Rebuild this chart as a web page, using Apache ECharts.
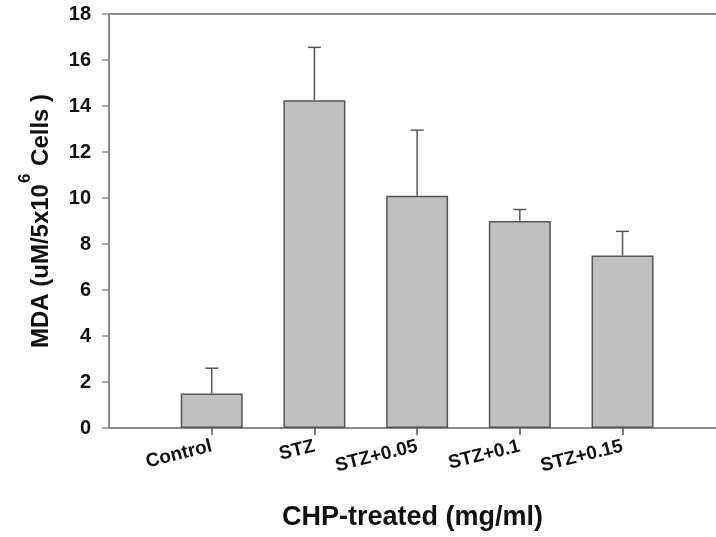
<!DOCTYPE html>
<html>
<head>
<meta charset="utf-8">
<script src="https://cdn.jsdelivr.net/npm/echarts@6/dist/echarts.min.js"></script>
<style>html,body{margin:0;padding:0;background:#fff}#c{width:716px;height:537px}</style>
</head>
<body>
<div id="c"></div>
<script>
const categories = ['Control', 'STZ', 'STZ+0.05', 'STZ+0.1', 'STZ+0.15'];
const meanValues = [1.5, 14.25, 10.1, 9.0, 7.5];
const errorTops = [2.6, 16.55, 12.95, 9.5, 8.55];
const yTicks = [0, 2, 4, 6, 8, 10, 12, 14, 16, 18];

const positions = categories.map((c, i) => i + 1);
const barData = meanValues.map((v, i) => [positions[i], v]);
const errData = meanValues.map((v, i) => [positions[i], v, errorTops[i]]);

const chart = echarts.init(document.getElementById('c'), null, {renderer: 'canvas'});
const font = '"Liberation Sans", Arial, sans-serif';
const axisGray = '#8a8a8a';
const xMax = 5.91;

chart.setOption({
  animation: false,
  backgroundColor: '#fff',
  grid: {left: 109, right: 0, top: 14, bottom: 109},
  xAxis: [{
    type: 'value', min: 0, max: xMax,
    splitLine: {show: false},
    axisLine: {show: true, lineStyle: {color: axisGray, width: 2}},
    axisTick: {show: true, customValues: positions, length: 7, lineStyle: {color: '#555', width: 1.5}},
    axisLabel: {
      customValues: positions, rotate: 14, margin: 18,
      formatter: v => categories[Math.round(v) - 1] || '',
      fontFamily: font, fontWeight: 'bold', fontSize: 19, color: '#111'
    },
    name: 'CHP-treated (mg/ml)', nameLocation: 'middle', nameGap: 76,
    nameTextStyle: {fontFamily: font, fontWeight: 'bold', fontSize: 27, color: '#111'}
  }, {
    type: 'value', position: 'top', min: 0, max: xMax,
    splitLine: {show: false},
    axisLine: {show: true, onZero: false, lineStyle: {color: axisGray, width: 2}},
    axisTick: {show: false}, axisLabel: {show: false}
  }],
  yAxis: {
    type: 'value', min: 0, max: 18, interval: 2,
    splitLine: {show: false},
    axisLine: {show: true, lineStyle: {color: axisGray, width: 2}},
    axisTick: {show: true, inside: false, length: 7, lineStyle: {color: axisGray, width: 1.5}},
    axisLabel: {
      margin: 18, fontFamily: font, fontWeight: 'bold', fontSize: 20, color: '#111',
      formatter: v => yTicks.includes(v) ? String(v) : ''
    },
    name: '{a|MDA (uM/5x10}{s|6}{a| Cells )}',
    nameLocation: 'middle', nameGap: 56, nameRotate: 90,
    nameTextStyle: {
      rich: {
        a: {fontFamily: font, fontWeight: 'bold', fontSize: 24, color: '#111', lineHeight: 36, verticalAlign: 'bottom'},
        s: {fontFamily: font, fontWeight: 'bold', fontSize: 17, color: '#111', lineHeight: 6, verticalAlign: 'top', padding: [0, 1, 0, 1]}
      }
    }
  },
  series: [{
    type: 'bar',
    data: barData,
    barWidth: 62,
    itemStyle: {color: '#c0c0c0', borderColor: '#555', borderWidth: 1.5},
    z: 2
  }, {
    type: 'custom',
    data: errData,
    z: 1,
    renderItem: function (params, api) {
      const x = api.value(0);
      const base = api.coord([x, api.value(1)]);
      const top = api.coord([x, api.value(2)]);
      const cap = 6.5;
      return {
        type: 'group',
        children: [
          {type: 'line', shape: {x1: base[0], y1: base[1], x2: top[0], y2: top[1]}, style: {stroke: '#555', lineWidth: 1.5}},
          {type: 'line', shape: {x1: top[0] - cap, y1: top[1], x2: top[0] + cap, y2: top[1]}, style: {stroke: '#555', lineWidth: 1.5}}
        ]
      };
    }
  }]
});
</script>
</body>
</html>
